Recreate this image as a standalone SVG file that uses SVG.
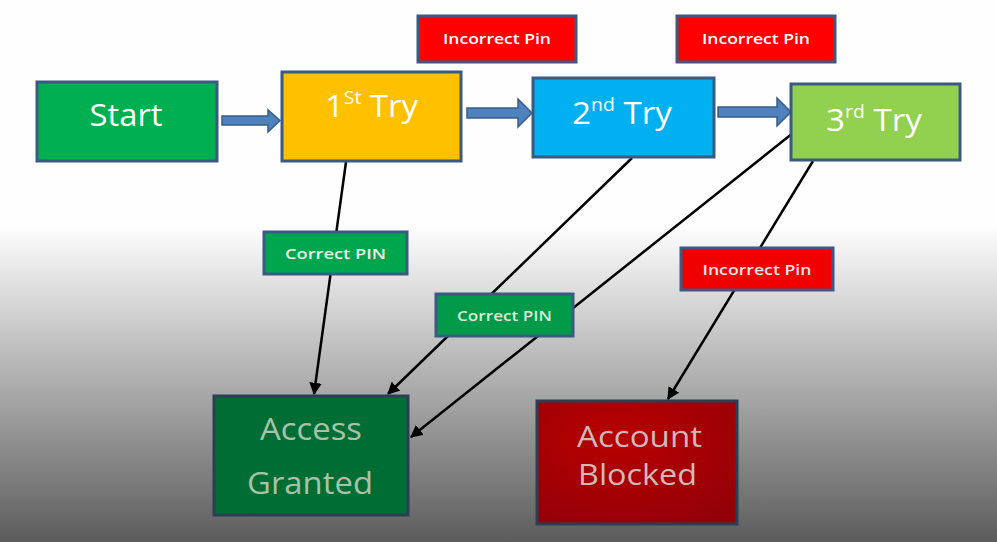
<svg xmlns="http://www.w3.org/2000/svg" width="997" height="542" viewBox="0 0 997 542">
<defs>
<linearGradient id="bg" gradientUnits="userSpaceOnUse" x1="0" y1="225" x2="0" y2="542">
<stop offset="0" stop-color="#fefefe"/>
<stop offset="1" stop-color="#5c5c5c"/>
</linearGradient>
<radialGradient id="redg" cx="0.4" cy="0.3" r="0.8">
<stop offset="0" stop-color="#b80000"/>
<stop offset="1" stop-color="#940008"/>
</radialGradient>
<marker id="ah" viewBox="0 0 10 10" refX="9" refY="5" markerWidth="5" markerHeight="5" orient="auto" markerUnits="strokeWidth">
<path d="M0,0 L10,5 L0,10 z" fill="#000"/>
</marker>
<style>
.box{stroke:#3b5a82;stroke-width:3}
.big{font-family:"Open Sans","Liberation Sans",sans-serif;fill:#fff;font-size:31px}
.lbl{font-family:"Open Sans","Liberation Sans",sans-serif;fill:#fff;font-size:15px;font-weight:600}
.line{stroke:#000;stroke-width:2.5;fill:none;marker-end:url(#ah)}
.blk{fill:#4f81bd;stroke:#385d8a;stroke-width:1.5}
</style>
</defs>
<rect width="997" height="542" fill="url(#bg)"/>

<g id="connectors">
<line class="line" x1="346" y1="162" x2="314" y2="394"/>
<line class="line" x1="632" y1="158" x2="388" y2="394"/>
<line class="line" x1="793" y1="133" x2="411" y2="437"/>
<line class="line" x1="813" y1="161" x2="668" y2="399"/>
<path class="blk" d="M222,116 H268 V110 L280,120.5 L268,132 V125 H222 Z"/>
<path class="blk" d="M467,108 H518 V99 L532,113 L518,127 V118 H467 Z"/>
<path class="blk" d="M718,107 H777 V98 L791,112 L777,126 V117 H718 Z"/>
</g>

<g id="start">
<rect class="box" x="37" y="82" width="180" height="79" fill="#00b050"/>
<text class="big" x="126" y="126" text-anchor="middle" textLength="73" lengthAdjust="spacingAndGlyphs">Start</text>
</g>
<g id="try1">
<rect class="box" x="282" y="72" width="179" height="89" fill="#ffc000"/>
<text class="big" x="325" y="117" textLength="93" lengthAdjust="spacingAndGlyphs">1<tspan font-size="18" dy="-13">St</tspan><tspan dy="13"> Try</tspan></text>
</g>
<g id="try2">
<rect class="box" x="533" y="78" width="181" height="79" fill="#00b0f0"/>
<text class="big" x="572" y="124" textLength="100" lengthAdjust="spacingAndGlyphs">2<tspan font-size="18" dy="-13">nd</tspan><tspan dy="13"> Try</tspan></text>
</g>
<g id="try3">
<rect class="box" x="791" y="84" width="169" height="76" fill="#92d050"/>
<text class="big" x="826" y="131" textLength="96" lengthAdjust="spacingAndGlyphs">3<tspan font-size="18" dy="-13">rd</tspan><tspan dy="13"> Try</tspan></text>
</g>
<g id="incorrect1">
<rect class="box" x="418" y="16" width="158" height="46" fill="#ff0000"/>
<text class="lbl" x="497" y="44" text-anchor="middle" textLength="108" lengthAdjust="spacingAndGlyphs">Incorrect Pin</text>
</g>
<g id="incorrect2">
<rect class="box" x="677" y="16" width="158" height="46" fill="#ff0000"/>
<text class="lbl" x="756" y="44" text-anchor="middle" textLength="108" lengthAdjust="spacingAndGlyphs">Incorrect Pin</text>
</g>
<g id="correct1">
<rect class="box" x="264" y="232" width="143" height="42" fill="#00a64d"/>
<text class="lbl" x="335.5" y="259" text-anchor="middle" textLength="101" lengthAdjust="spacingAndGlyphs" fill="#e6f6e6" style="fill:#e6f6e6">Correct PIN</text>
</g>
<g id="correct2">
<rect class="box" x="436" y="294" width="137" height="42" fill="#009a48"/>
<text class="lbl" x="504.5" y="321" text-anchor="middle" textLength="95" lengthAdjust="spacingAndGlyphs" style="fill:#d8ecd8">Correct PIN</text>
</g>
<g id="incorrect3">
<rect class="box" x="681" y="248" width="152" height="42" fill="#f00000"/>
<text class="lbl" x="757" y="275" text-anchor="middle" textLength="109" lengthAdjust="spacingAndGlyphs" style="fill:#f4e6e6">Incorrect Pin</text>
</g>
<g id="granted">
<rect class="box" x="214" y="396" width="194" height="119" fill="#006e34" style="stroke:#2c3e55"/>
<text class="big" x="311" y="440" text-anchor="middle" textLength="102" lengthAdjust="spacingAndGlyphs" style="fill:#a8c2aa">Access</text>
<text class="big" x="310" y="494" text-anchor="middle" textLength="126" lengthAdjust="spacingAndGlyphs" style="fill:#a8c2aa">Granted</text>
</g>
<g id="blocked">
<rect class="box" x="537" y="401" width="200" height="123" fill="url(#redg)" style="stroke:#2c3e55"/>
<text class="big" x="639.5" y="447" text-anchor="middle" textLength="125" lengthAdjust="spacingAndGlyphs" style="fill:#d2b8b8;font-size:29px">Account</text>
<text class="big" x="637.5" y="485" text-anchor="middle" textLength="119" lengthAdjust="spacingAndGlyphs" style="fill:#d2b8b8;font-size:29px">Blocked</text>
</g>
</svg>
